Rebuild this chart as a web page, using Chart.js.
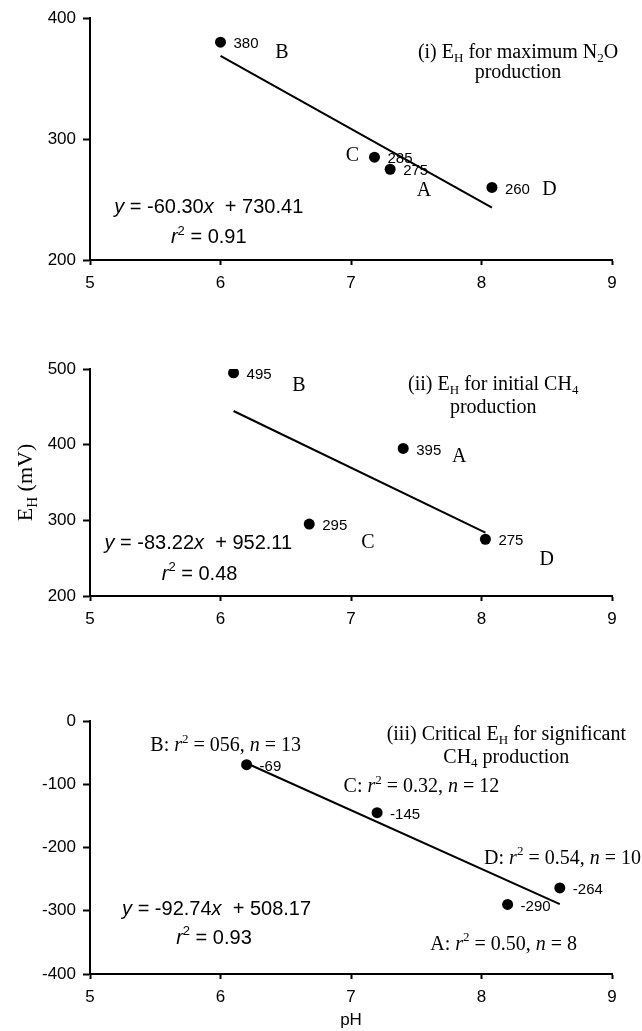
<!DOCTYPE html>
<html>
<head>
<meta charset="utf-8">
<script src="https://cdn.jsdelivr.net/npm/chart.js@4.4.1/dist/chart.umd.min.js"></script>
<style>
  html, body { margin: 0; padding: 0; background: #fff; }
  body { position: relative; width: 642px; height: 1031px; overflow: hidden; }
  canvas { position: absolute; left: 0; }
</style>
</head>
<body>
<canvas id="panelN2O" width="642" height="310" style="top:0px"></canvas>
<canvas id="panelCH4" width="642" height="316" style="top:330px"></canvas>
<canvas id="panelCrit" width="642" height="341" style="top:690px"></canvas>
<script>
// soil sites and the EH / pH readings for each one
const sites = ['A', 'B', 'C', 'D'];

const phN2O = [7.30, 6.00, 7.18, 8.08];
const ehN2O = [275, 380, 285, 260];

const phCH4 = [7.40, 6.10, 6.68, 8.03];
const ehCH4 = [395, 495, 295, 275];

const phCrit = [8.20, 6.20, 7.20, 8.60];
const ehCrit = [-290, -69, -145, -264];

// regression: slope, intercept, r2
const fitN2O = [-60.30, 730.41, '0.91'];
const fitCH4 = [-83.22, 952.11, '0.48'];
const fitCrit = [-92.74, 508.17, '0.93'];

// per-site fits for the critical EH panel
const critR2 = ['0.50', '056', '0.32', '0.54'];
const critN = [8, 13, 12, 10];

const xTicks = [5, 6, 7, 8, 9];
const yTicksN2O = [200, 300, 400];
const yTicksCH4 = [200, 300, 400, 500];
const yTicksCrit = [-400, -300, -200, -100, 0];

const SANS = 'Liberation Sans, Arial, sans-serif';
const SERIF = 'Liberation Serif, Times New Roman, serif';

function fontFor(style, size, family) {
  let s = size, it = '';
  if (style === 'sub' || style === 'sup') s = Math.round(size * 0.66);
  if (style === 'i') it = 'italic ';
  return it + s + 'px ' + family;
}

// draws text made of [text, style] pieces, y is the middle of the capitals
function drawRich(ctx, parts, x, y, size, family, align) {
  let w = 0;
  parts.forEach(p => { ctx.font = fontFor(p[1], size, family); w += ctx.measureText(p[0]).width; });
  let cx = align === 'center' ? x - w / 2 : align === 'right' ? x - w : x;
  const base = y + size * 0.36;
  ctx.textAlign = 'left';
  ctx.textBaseline = 'alphabetic';
  parts.forEach(p => {
    ctx.font = fontFor(p[1], size, family);
    let dy = 0;
    if (p[1] === 'sub') dy = size * 0.22;
    if (p[1] === 'sup') dy = -size * 0.42;
    ctx.fillText(p[0], cx, base + dy);
    cx += ctx.measureText(p[0]).width;
  });
}

function eqParts(fit) {
  return [['y', 'i'], [' = ' + fit[0].toFixed(2), 'n'], ['x', 'i'], ['  + ' + fit[1].toFixed(2), 'n']];
}
function r2Parts(fit) {
  return [['r', 'i'], ['2', 'sup'], [' = ' + fit[2], 'n']];
}

const notesPlugin = {
  id: 'notes',
  afterDatasetsDraw(chart) {
    const ctx = chart.ctx;
    const xs = chart.scales.x, ys = chart.scales.y;
    const cfg = chart.config.options.notes;
    ctx.save();
    ctx.fillStyle = '#000';
    // value next to each point
    const pts = chart.getDatasetMeta(1).data;
    const vals = chart.data.datasets[1].data;
    ctx.font = '15px ' + SANS;
    ctx.textAlign = 'left';
    ctx.textBaseline = 'middle';
    pts.forEach((el, i) => {
      ctx.fillText(String(vals[i].y), el.x + 13, el.y + 2);
    });
    cfg.items.forEach(n => {
      drawRich(ctx, n.parts, xs.getPixelForValue(n.at[0]), ys.getPixelForValue(n.at[1]),
        n.size, n.family, n.align || 'center');
    });
    if (cfg.yTitle) {
      ctx.translate(24, (chart.chartArea.top + chart.chartArea.bottom) / 2);
      ctx.rotate(-Math.PI / 2);
      drawRich(ctx, cfg.yTitle, 0, 0, 22, SERIF, 'center');
    }
    ctx.restore();
  }
};

function makePanel(id, ph, eh, fit, yTicks, padTop, xHeight, notes, xTitle) {
  const points = ph.map((v, i) => ({ x: v, y: eh[i] }));
  const lo = Math.min(...ph), hi = Math.max(...ph);
  const line = [lo, hi].map(v => ({ x: v, y: fit[0] * v + fit[1] }));
  return new Chart(document.getElementById(id), {
    type: 'scatter',
    data: {
      datasets: [
        { data: line, showLine: true, borderColor: '#000', borderWidth: 2, pointRadius: 0 },
        { data: points, pointRadius: 5.5, backgroundColor: '#000', borderColor: '#000', borderWidth: 0 }
      ]
    },
    options: {
      responsive: false,
      animation: false,
      layout: { padding: { top: padTop, right: 30, left: 0, bottom: 0 } },
      plugins: { legend: { display: false }, tooltip: { enabled: false } },
      notes: notes,
      scales: {
        x: {
          type: 'linear', min: xTicks[0], max: xTicks[xTicks.length - 1],
          afterBuildTicks: s => { s.ticks = xTicks.map(v => ({ value: v })); },
          afterFit: s => { s.height = xHeight; },
          grid: { drawOnChartArea: false, color: '#000', tickLength: 5, tickWidth: 2 },
          border: { color: '#000', width: 2 },
          ticks: { color: '#000', font: { family: SANS, size: 17 }, padding: 8, maxRotation: 0 },
          title: xTitle ? { display: true, text: xTitle, color: '#000', font: { family: SANS, size: 17 }, padding: 0 } : { display: false }
        },
        y: {
          type: 'linear', min: yTicks[0], max: yTicks[yTicks.length - 1],
          afterBuildTicks: s => { s.ticks = yTicks.map(v => ({ value: v })); },
          afterFit: s => { s.width = 90; },
          grid: { drawOnChartArea: false, color: '#000', tickLength: 7, tickWidth: 2 },
          border: { color: '#000', width: 2 },
          ticks: { color: '#000', font: { family: SANS, size: 17 }, padding: 7 }
        }
      }
    },
    plugins: [notesPlugin]
  });
}

function letter(t, at) { return { parts: [[t, 'n']], at: at, size: 20, family: SERIF }; }
function serifLine(parts, at, align) { return { parts: parts, at: at, size: 20, family: SERIF, align: align }; }
function sansLine(parts, at) { return { parts: parts, at: at, size: 20, family: SANS }; }

makePanel('panelN2O', phN2O, ehN2O, fitN2O, yTicksN2O, 18, 50, {
  items: [
    letter(sites[0], [7.56, 259]), letter(sites[1], [6.47, 373]),
    letter(sites[2], [7.01, 288]), letter(sites[3], [8.52, 260]),
    serifLine([['(i) E', 'n'], ['H', 'sub'], [' for maximum N', 'n'], ['2', 'sub'], ['O', 'n']], [8.28, 373]),
    serifLine([['production', 'n']], [8.28, 356]),
    sansLine(eqParts(fitN2O), [5.91, 245]),
    sansLine(r2Parts(fitN2O), [5.91, 220])
  ]
});

makePanel('panelCH4', phCH4, ehCH4, fitCH4, yTicksCH4, 39, 50, {
  items: [
    letter(sites[0], [7.83, 387]), letter(sites[1], [6.60, 481]),
    letter(sites[2], [7.13, 273]), letter(sites[3], [8.50, 250]),
    serifLine([['(ii) E', 'n'], ['H', 'sub'], [' for initial CH', 'n'], ['4', 'sub']], [8.09, 482]),
    serifLine([['production', 'n']], [8.09, 452]),
    sansLine(eqParts(fitCH4), [5.83, 271]),
    sansLine(r2Parts(fitCH4), [5.84, 231])
  ],
  yTitle: [['E', 'n'], ['H', 'sub'], [' (mV)', 'n']]
});

function siteStats(i) {
  return [[sites[i] + ': ', 'n'], ['r', 'i'], ['2', 'sup'], [' = ' + critR2[i] + ', ', 'n'], ['n', 'i'], [' = ' + critN[i], 'n']];
}

makePanel('panelCrit', phCrit, ehCrit, fitCrit, yTicksCrit, 31, 57, {
  items: [
    serifLine(siteStats(1), [6.04, -36]),
    serifLine(siteStats(2), [7.54, -101]),
    serifLine(siteStats(3), [8.02, -214], 'left'),
    serifLine(siteStats(0), [8.17, -350]),
    serifLine([['(iii) Critical E', 'n'], ['H', 'sub'], [' for significant', 'n']], [8.19, -18]),
    serifLine([['CH', 'n'], ['4', 'sub'], [' production', 'n']], [8.19, -55]),
    sansLine(eqParts(fitCrit), [5.97, -295]),
    sansLine(r2Parts(fitCrit), [5.95, -341])
  ]
}, 'pH');
</script>
</body>
</html>
